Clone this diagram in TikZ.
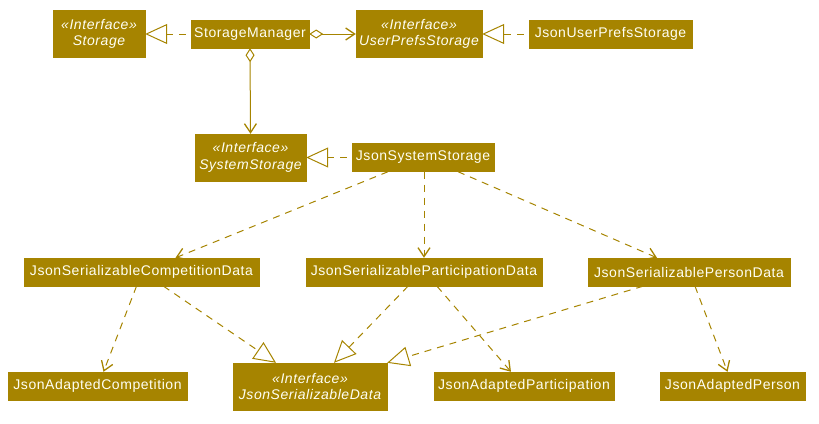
\documentclass[tikz,border=0pt]{standalone}
\usepackage{fontspec}
\setmainfont[LetterSpace=4]{Liberation Sans}
\usetikzlibrary{arrows.meta}
\definecolor{gold}{HTML}{A68400}
\definecolor{txt}{HTML}{FFFFF4}
\tikzset{
  cls/.style={draw=gold, fill=gold, text=txt, font=\fontsize{14}{16.5}\selectfont, minimum height=28pt, inner sep=0pt},
  iface/.style={cls, align=center, font=\fontsize{14}{16.5}\selectfont\itshape, minimum height=47pt},
  link/.style={draw=gold, line width=1pt},
  barb/.style={Straight Barb[length=9pt,width=12pt,line width=1.3pt]},
  dep/.style={link, dash pattern=on 7pt off 6pt, -{Straight Barb[length=9pt,width=12pt,line width=1.3pt]}},
  real/.style={link, dash pattern=on 7pt off 6pt, -{Triangle[open,length=22pt,width=20pt,line width=1pt]}},
  aggr/.style={link, {Diamond[open,length=14pt,width=9pt,line width=1pt]}-{Straight Barb[length=9pt,width=12pt,line width=1.3pt]}}
}
\begin{document}
\begin{tikzpicture}[x=1pt,y=-1pt]
\useasboundingbox (0,0) rectangle (819,423);
\node[iface, minimum width=92pt] (st) at (99,34) {«Interface»\\Storage};
\node[cls, minimum width=118pt] (sm) at (250,34) {StorageManager};
\node[iface, minimum width=126pt] (ups) at (419,34) {«Interface»\\UserPrefsStorage};
\node[cls, minimum width=163pt] (jups) at (610.5,34) {JsonUserPrefsStorage};
\node[iface, minimum width=111pt] (sys) at (250.5,157.5) {«Interface»\\SystemStorage};
\node[cls, minimum width=142pt] (jss) at (423,157.5) {JsonSystemStorage};
\node[cls, minimum width=235pt] (comp) at (141.5,272) {JsonSerializableCompetitionData};
\node[cls, minimum width=236pt] (part) at (424,272) {JsonSerializableParticipationData};
\node[cls, minimum width=202pt] (pers) at (689,272) {JsonSerializablePersonData};
\node[cls, minimum width=179pt] (acomp) at (97.5,386) {JsonAdaptedCompetition};
\node[iface, minimum width=154pt] (jsd) at (310,386.5) {«Interface»\\JsonSerializableData};
\node[cls, minimum width=180pt] (apart) at (524,386) {JsonAdaptedParticipation};
\node[cls, minimum width=145pt] (apers) at (732.5,386) {JsonAdaptedPerson};

\draw[real] ([xshift=-5pt]sm.west) -- (st.east);
\draw[aggr] (sm.east) -- (ups.west);
\draw[aggr] (sm.south) -- (sys.north);
\draw[real] ([xshift=-5pt]jups.west) -- (ups.east);
\draw[real] ([xshift=-5pt]jss.west) -- (sys.east);

\draw[dep] ([xshift=-35pt]jss.south) -- ([xshift=34pt]comp.north);
\draw[dep] ([xshift=1pt]jss.south) -- (part.north);
\draw[dep] ([xshift=35pt]jss.south) -- ([xshift=-32pt]pers.north);

\draw[dep] ([xshift=-5pt]comp.south) -- ([xshift=6pt]acomp.north);
\draw[real] ([xshift=22pt]comp.south) -- ([xshift=-34pt]jsd.north);
\draw[real] ([xshift=-16pt]part.south) -- ([xshift=24pt]jsd.north);
\draw[dep] ([xshift=13pt]part.south) -- ([xshift=-13pt]apart.north);
\draw[real] ([xshift=-46pt]pers.south) -- (jsd.north east);
\draw[dep] ([xshift=6pt]pers.south) -- ([xshift=-5pt]apers.north);
\end{tikzpicture}
\end{document}
